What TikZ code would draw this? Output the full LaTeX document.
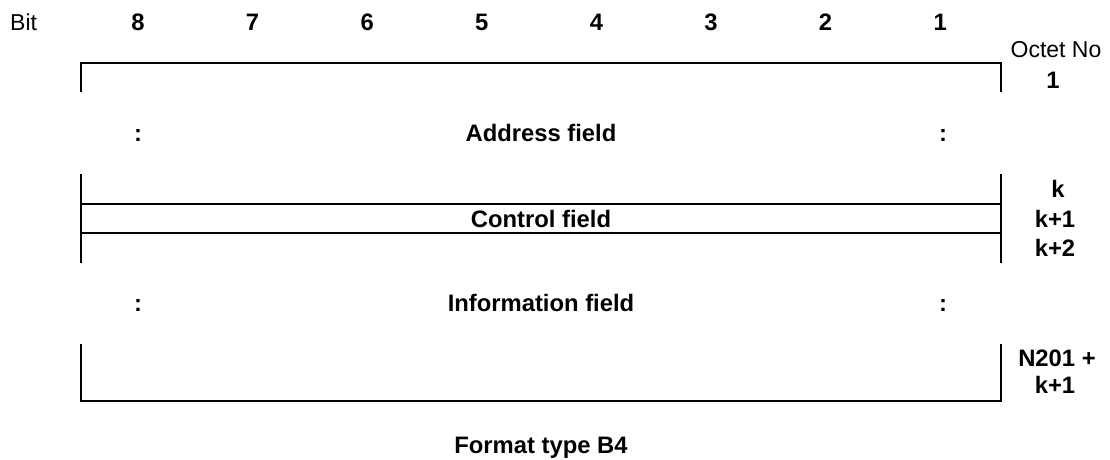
\documentclass[tikz,border=0pt]{standalone}
\usepackage{fontspec}
\setmainfont{Liberation Sans}
\usepackage{tikz}
\usetikzlibrary{positioning}

\tikzset{
    lbl/.style={anchor=base, inner sep=0pt, font=\fontsize{23}{27}\selectfont},
    blbl/.style={lbl, font=\fontsize{23.8}{27}\selectfont\bfseries},
    frame/.style={line width=1.7pt, line cap=rect},
}

\begin{document}
\begin{tikzpicture}[x=1pt, y=-1pt]
    \useasboundingbox (0, 0) rectangle (1110, 459);

    % Header
    \node[lbl, anchor=base west] (bit) at (10, 30) {Bit};
    \foreach \b [count=\i from 0] in {8,7,6,5,4,3,2,1}
        \node[blbl] (bit\b) at (138 + 114.6*\i, 30) {\b};
    \node[lbl] (octetno) at (1056, 57) {Octet No};

    % Address field
    \coordinate (a1) at (81, 91);
    \coordinate (a2) at (1001, 91);
    \draw[frame] (a1) -- (81, 63) -- (1001, 63) -- (a2);
    \node[blbl] (oct1) at (1053, 88) {1};
    \node[blbl] (adcolL) at (138, 141) {:};
    \node[blbl] (adfield) at (541, 141) {Address field};
    \node[blbl] (adcolR) at (943, 141) {:};

    % Control field
    \coordinate (c1) at (81, 175);
    \coordinate (c2) at (81, 262);
    \coordinate (c3) at (1001, 175);
    \coordinate (c4) at (1001, 262);
    \draw[frame] (c1) -- (c2);
    \draw[frame] (c3) -- (c4);
    \draw[frame] (81, 204) -- (1001, 204);
    \draw[frame] (81, 233) -- (1001, 233);
    \node[blbl] (octk) at (1058, 197) {k};
    \node[blbl] (ctrl) at (541, 227) {Control field};
    \node[blbl] (octk1) at (1055, 227) {k+1};
    \node[blbl] (octk2) at (1055, 256) {k+2};

    % Information field
    \node[blbl] (incolL) at (138, 311) {:};
    \node[blbl] (infield) at (541, 311) {Information field};
    \node[blbl] (incolR) at (943, 311) {:};
    \coordinate (i1) at (81, 345);
    \coordinate (i2) at (1001, 345);
    \draw[frame] (i1) -- (81, 401) -- (1001, 401) -- (i2);
    \node[blbl] (octn) at (1057, 366) {N201 +};
    \node[blbl] (octn1) at (1055, 393) {k+1};

    % Caption
    \node[blbl] (caption) at (541, 453) {Format type B4};
\end{tikzpicture}
\end{document}
